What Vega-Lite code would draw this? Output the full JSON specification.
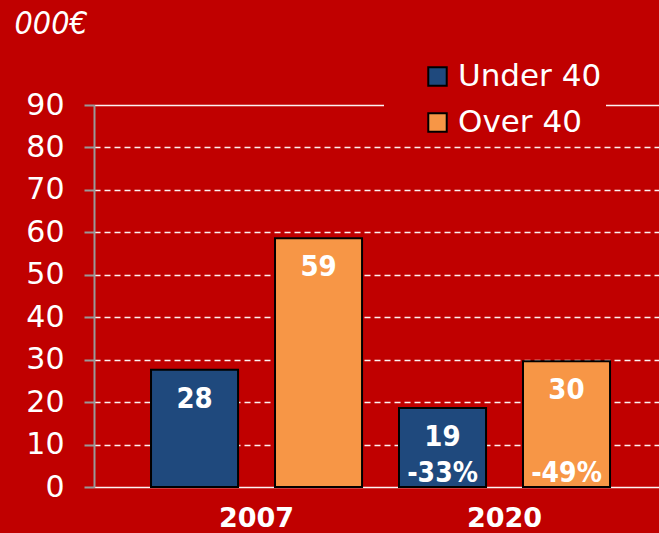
{
  "$schema": "https://vega.github.io/schema/vega-lite/v6.json",
  "width": 565,
  "height": 382,
  "autosize": "none",
  "padding": {"left": 94, "top": 105, "right": 0, "bottom": 46},
  "background": "#C00000",
  "config": {
    "view": {"stroke": null},
    "font": "DejaVu Sans"
  },
  "data": {
    "values": [
      {"year": "2007", "group": "Under 40", "value": 27.6, "change": null},
      {"year": "2007", "group": "Over 40", "value": 58.6, "change": null},
      {"year": "2020", "group": "Under 40", "value": 18.6, "change": "-33%"},
      {"year": "2020", "group": "Over 40", "value": 29.6, "change": "-49%"}
    ]
  },
  "encoding": {
    "x": {
      "field": "year",
      "type": "nominal",
      "scale": {"domain": ["2007", "2020"], "paddingInner": 0.149, "paddingOuter": 0.2137, "align": 0.538},
      "axis": {
        "title": null,
        "domain": false,
        "ticks": false,
        "labelAngle": 0,
        "labelColor": "white",
        "labelFont": "DejaVu Sans",
        "labelFontWeight": "bold",
        "labelFontSize": 27,
        "labelPadding": 18,
        "labelDx": -12
      }
    },
    "xOffset": {
      "field": "group",
      "type": "nominal",
      "scale": {"domain": ["Under 40", "Over 40"], "paddingInner": 0.298, "paddingOuter": 0}
    }
  },
  "layer": [
    {
      "mark": {"type": "bar", "stroke": "black", "strokeWidth": 2},
      "encoding": {
        "y": {
          "field": "value",
          "type": "quantitative",
          "scale": {"domain": [0, 90], "nice": false},
          "axis": {
            "values": [0, 10, 20, 30, 40, 50, 60, 70, 80, 90],
            "title": "000€",
            "titleAngle": 0,
            "titleAlign": "left",
            "titleBaseline": "alphabetic",
            "titleX": -80,
            "titleY": -72,
            "titleColor": "white",
            "titleFont": "DejaVu Sans Condensed, DejaVu Sans",
            "titleFontStyle": "italic",
            "titleFontWeight": "normal",
            "titleFontSize": 32,
            "domain": true,
            "domainColor": "#999999",
            "domainWidth": 2,
            "ticks": true,
            "tickColor": "#999999",
            "tickWidth": 2,
            "tickSize": 10,
            "labelColor": "white",
            "labelFont": "DejaVu Sans",
            "labelFontSize": 30,
            "labelPadding": 20,
            "grid": true,
            "gridColor": "white",
            "gridWidth": 1.3,
            "gridOpacity": 0.95,
            "gridDash": {"condition": {"test": "datum.value === 90 || datum.value === 0", "value": []}, "value": [6, 4]}
          }
        },
        "fill": {
          "field": "group",
          "type": "nominal",
          "scale": {"domain": ["Under 40", "Over 40"], "range": ["#1F497D", "#F79646"]},
          "legend": {
            "title": null,
            "orient": "none",
            "legendX": 290,
            "legendY": -48,
            "fillColor": "#C00000",
            "padding": 4,
            "symbolOffset": 34,
            "symbolType": "square",
            "symbolSize": 340,
            "symbolStrokeColor": "black",
            "symbolStrokeWidth": 2,
            "labelColor": "white",
            "labelFont": "DejaVu Sans",
            "labelFontSize": 31,
            "labelOffset": 5,
            "rowPadding": 14,
            "labelLimit": 300
          }
        }
      }
    },
    {
      "mark": {"type": "text", "baseline": "top", "dy": 15, "color": "white", "font": "DejaVu Sans Condensed, DejaVu Sans", "fontWeight": "bold", "fontSize": 29},
      "encoding": {
        "y": {"field": "value", "type": "quantitative"},
        "text": {"field": "value", "type": "quantitative", "format": ".0f"}
      }
    },
    {
      "transform": [{"filter": "datum.change != null"}],
      "mark": {"type": "text", "baseline": "alphabetic", "dy": -5, "color": "white", "font": "DejaVu Sans Condensed, DejaVu Sans", "fontWeight": "bold", "fontSize": 28},
      "encoding": {
        "y": {"datum": 0, "type": "quantitative"},
        "text": {"field": "change", "type": "nominal"}
      }
    }
  ]
}
